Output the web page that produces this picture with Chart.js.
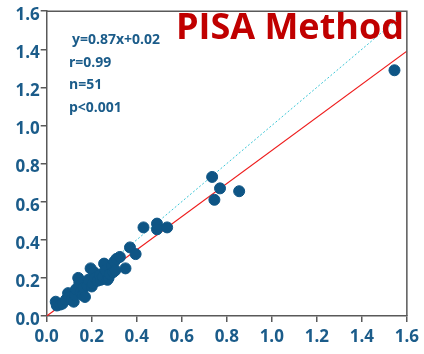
<!DOCTYPE html>
<html>
<head>
<meta charset="utf-8">
<script src="https://cdn.jsdelivr.net/npm/chart.js@4"></script>
<style>
  html, body { margin: 0; padding: 0; background: #fff; }
  #wrap { width: 424px; height: 354px; }
</style>
</head>
<body>
<div id="wrap"><canvas id="myChart"></canvas></div>
<script>
// measured x values (reference method)
const xs = [0.04, 0.045, 0.06, 0.07, 0.085, 0.095, 0.10, 0.11, 0.12, 0.125,
            0.13, 0.14, 0.145, 0.15, 0.16, 0.165, 0.17, 0.18, 0.185, 0.195,
            0.20, 0.205, 0.21, 0.215, 0.225, 0.235, 0.24, 0.25, 0.255, 0.26,
            0.27, 0.275, 0.28, 0.29, 0.295, 0.30, 0.305, 0.31, 0.325, 0.35,
            0.37, 0.395, 0.43, 0.49, 0.49, 0.535, 0.735, 0.745, 0.77, 0.855,
            1.545];
// PISA method values
const ys = [0.075, 0.055, 0.06, 0.065, 0.085, 0.12, 0.10, 0.085, 0.075, 0.11,
            0.14, 0.20, 0.175, 0.125, 0.11, 0.15, 0.10, 0.16, 0.19, 0.25,
            0.155, 0.17, 0.23, 0.20, 0.185, 0.215, 0.19, 0.205, 0.275, 0.24,
            0.19, 0.20, 0.22, 0.265, 0.23, 0.285, 0.24, 0.30, 0.31, 0.25,
            0.36, 0.325, 0.465, 0.485, 0.455, 0.465, 0.73, 0.61, 0.67, 0.655,
            1.29];
const fitX = [0, 1.6];
const fitY = [0, 1.39];
const idX = [0.04, 1.56];
const tickVals = [0, 0.2, 0.4, 0.6, 0.8, 1.0, 1.2, 1.4, 1.6];
const statLines = ['y=0.87x+0.02', 'r=0.99', 'n=51', 'p<0.001'];
const title = 'PISA Method';

const blue = '#0e5585';
const textBlue = '#1b5c8a';
const axisGrey = '#595959';

const punkty = xs.map((x, i) => ({x: x, y: ys[i]}));

const napisy = {
  id: 'napisy',
  afterDraw(chart) {
    const c = chart.ctx;
    const a = chart.chartArea;
    c.save();
    // ramka
    c.strokeStyle = axisGrey;
    c.lineWidth = 1.5;
    c.beginPath();
    c.moveTo(a.left, a.top);
    c.lineTo(a.right, a.top);
    c.lineTo(a.right, a.bottom);
    c.stroke();
    // statystyki
    c.fillStyle = textBlue;
    c.font = 'bold 14px "Open Sans"';
    c.textBaseline = 'middle';
    statLines.forEach((t, i) => {
      c.fillText(t, i == 0 ? 72 : 69, 40 + i * 22.7);
    });
    // tytul
    c.fillStyle = '#c00000';
    c.font = 'bold 36px "Open Sans"';
    c.textAlign = 'right';
    c.textBaseline = 'alphabetic';
    c.fillText(title, 404, 39);
    c.restore();
  }
};

const ctx = document.getElementById('myChart');

new Chart(ctx, {
  data: {
    datasets: [
      {
        type: 'line',
        data: idX.map(v => ({x: v, y: v})),
        borderColor: '#3cc6d6',
        borderWidth: 1,
        borderDash: [2, 2],
        pointRadius: 0,
        order: 3
      },
      {
        type: 'line',
        data: fitX.map((x, i) => ({x: x, y: fitY[i]})),
        borderColor: '#ee1c1c',
        borderWidth: 1.2,
        pointRadius: 0,
        order: 2
      },
      {
        type: 'scatter',
        data: punkty,
        backgroundColor: blue,
        borderColor: blue,
        pointRadius: 5.5,
        order: 1
      }
    ]
  },
  options: {
    responsive: true,
    maintainAspectRatio: false,
    animation: false,
    layout: { padding: { top: 9.5, right: 17, left: 0, bottom: 0 } },
    plugins: { legend: { display: false }, tooltip: { enabled: false } },
    scales: {
      x: {
        type: 'linear',
        min: 0,
        max: 1.6,
        afterBuildTicks: s => { s.ticks = tickVals.map(v => ({value: v})); },
        afterFit: s => { s.height = 38; },
        grid: { display: true, drawOnChartArea: false, drawTicks: true, tickLength: 6, color: axisGrey, lineWidth: 1.5 },
        border: { display: true, color: axisGrey, width: 1.5 },
        ticks: {
          color: textBlue,
          font: { family: '"Open Sans"', size: 17, weight: 'bold' },
          padding: 5,
          callback: v => v.toFixed(1)
        }
      },
      y: {
        type: 'linear',
        min: 0,
        max: 1.6,
        afterBuildTicks: s => { s.ticks = tickVals.map(v => ({value: v})); },
        afterFit: s => { s.width = 46.7; },
        grid: { display: true, drawOnChartArea: false, drawTicks: true, tickLength: 6, color: axisGrey, lineWidth: 1.5 },
        border: { display: true, color: axisGrey, width: 1.5 },
        ticks: {
          color: textBlue,
          font: { family: '"Open Sans"', size: 17, weight: 'bold' },
          padding: 1,
          labelOffset: 4,
          callback: v => v.toFixed(1)
        }
      }
    }
  },
  plugins: [napisy]
});
</script>
</body>
</html>
